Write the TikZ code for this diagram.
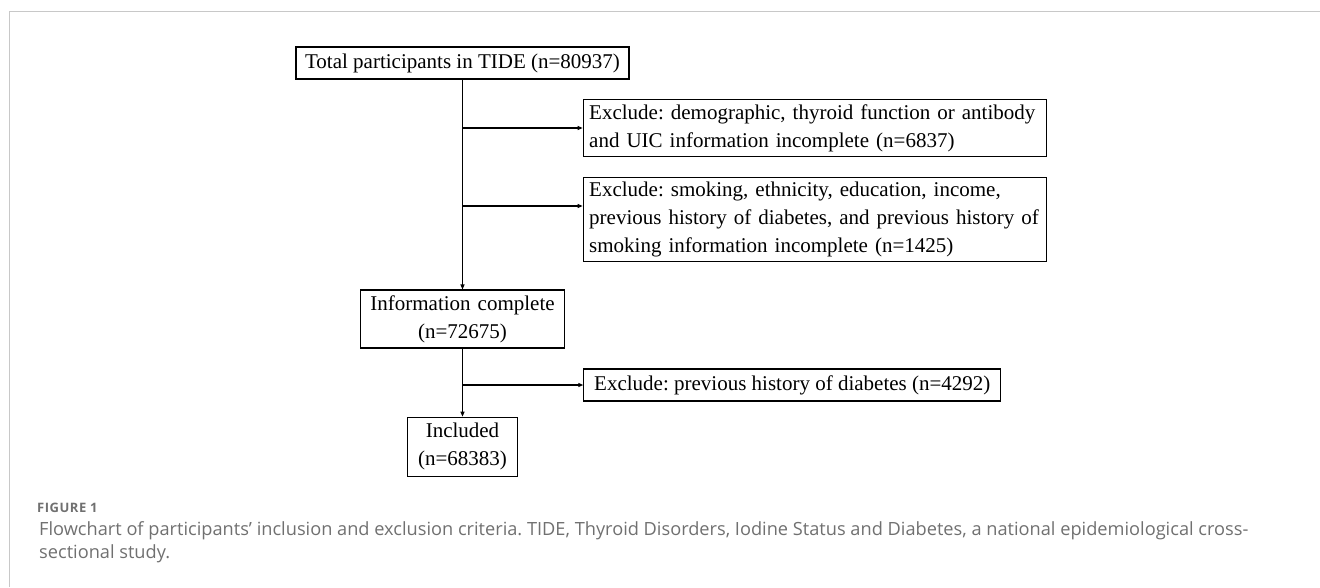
\documentclass[tikz,border=0pt]{standalone}
\usepackage{fontspec}
\setmainfont{Liberation Serif}
\newfontfamily\capfont{Open Sans}
\usetikzlibrary{arrows.meta}
\definecolor{framegray}{HTML}{C8C8C8}
\definecolor{capgray}{HTML}{707070}
\frenchspacing
\begin{document}
\begin{tikzpicture}[x=1pt,y=-1pt,
  box/.style={draw,line width=1.1pt,inner xsep=6pt,inner ysep=0pt,font=\fontsize{21}{28}\selectfont},
  arr/.style={line width=1.1pt,-{Triangle[length=5pt,width=4pt]}},
  caption/.style={anchor=base west,inner sep=0pt,text=capgray,font=\capfont\fontsize{18.2}{23}\selectfont}]
\useasboundingbox (0,0) rectangle (1320,587);
\draw[framegray,line width=1.5pt] (9.3,587) -- (9.3,11.3) -- (1320,11.3);
% boxes
\node[box,minimum width=333pt,minimum height=32pt] (total) at (462.5,63) {Total participants in TIDE (n=80937)};
\node[box,text width=451pt,minimum height=57pt] (excl1) at (814.7,128)
  {Exclude: demographic, thyroid function or antibody\\and UIC information incomplete (n=6837)};
\node[box,text width=451pt,minimum height=84pt] (excl2) at (814.7,219.4)
  {Exclude: smoking, ethnicity, education, income,\\previous history of diabetes, and previous history of\\smoking information incomplete (n=1425)};
\node[box,text width=192pt,minimum height=58pt] (info) at (462.5,319)
  {\centering Information complete\\(n=72675)\par};
\node[box,minimum width=417pt,minimum height=32pt] (excl3) at (792.3,385) {Exclude: previous history of diabetes (n=4292)};
\node[box,text width=98pt,minimum height=59pt] (incl) at (462.5,446.7)
  {\centering Included\\(n=68383)\par};
% connectors
\coordinate (j1) at (462.5,128);
\coordinate (j2) at (462.5,206);
\coordinate (j3) at (462.5,385);
\draw[arr] (total.south) -- (info.north);
\draw[arr] (info.south) -- (incl.north);
\draw[arr] (j1) -- (excl1.west);
\draw[arr] (j2) -- (j2 -| excl2.west);
\draw[arr] (j3) -- (excl3.west);
% caption
\node[caption,font=\capfont\bfseries\fontsize{13}{15}\selectfont\addfontfeatures{LetterSpace=4}] (fig) at (37,512) {FIGURE 1};
\node[caption] (cap1) at (39,535) {Flowchart of participants’ inclusion and exclusion criteria. TIDE, Thyroid Disorders, Iodine Status and Diabetes, a national epidemiological cross-};
\node[caption] (cap2) at (39,558) {sectional study.};
\end{tikzpicture}
\end{document}
